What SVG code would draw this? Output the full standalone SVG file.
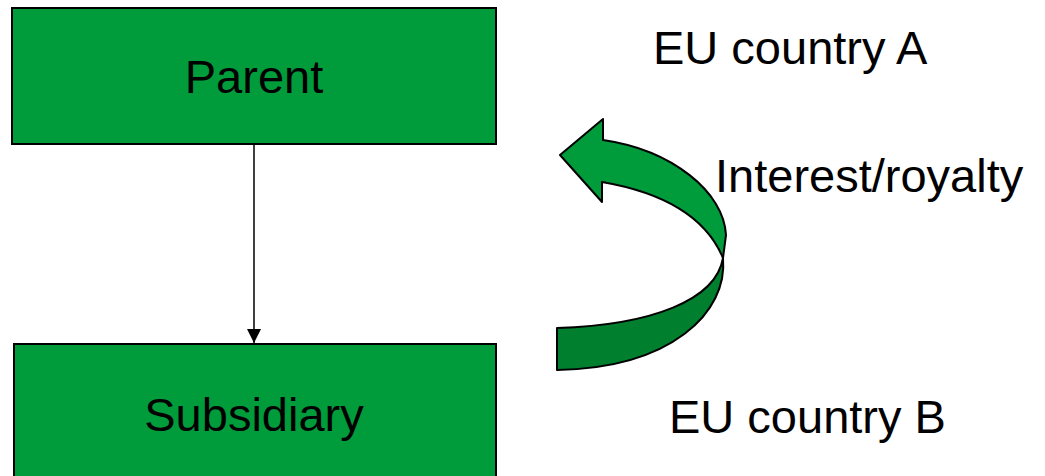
<svg xmlns="http://www.w3.org/2000/svg" width="1045" height="476" viewBox="0 0 1045 476">
  <style>
    .box { fill: #009B3A; stroke: #000000; stroke-width: 2; }
    .label { font-family: "Liberation Sans", Arial, sans-serif; font-size: 47px; fill: #000000; }
    .link { stroke: #000000; stroke-width: 1.5; fill: none; }
    .ribbon-top { fill: #009B3A; stroke: #000000; stroke-width: 2; stroke-linejoin: round; }
    .ribbon-back { fill: #007F2E; stroke: #000000; stroke-width: 2; stroke-linejoin: round; }
  </style>
  <defs>
    <marker id="arrowhead" markerWidth="16" markerHeight="16" refX="14" refY="8" orient="auto" markerUnits="userSpaceOnUse">
      <path d="M0,1 L14,8 L0,15 Z" fill="#000000"/>
    </marker>
  </defs>
  <rect width="1045" height="476" fill="#FFFFFF"/>

  <g id="connectors">
    <line class="link" x1="254" y1="144" x2="254" y2="343" marker-end="url(#arrowhead)"/>
  </g>

  <g id="node-parent">
    <rect class="box" x="12" y="8" width="484" height="136"/>
    <text class="label" x="254" y="93" text-anchor="middle">Parent</text>
  </g>

  <g id="node-subsidiary">
    <rect class="box" x="14" y="344" width="482" height="150"/>
    <text class="label" x="254" y="431" text-anchor="middle">Subsidiary</text>
  </g>

  <g id="payment-arrow">
    <!-- lower, darker half of the twisted ribbon -->
    <path class="ribbon-back" d="M723,258 C728,312 672,368 557,370 L557,328 C652,325 716,300 723,258 Z"/>
    <!-- upper half with the arrowhead -->
    <path class="ribbon-top" d="M603,140 C672,150 724,192 726,235 L723,258 C705,215 660,192 602,182 L602,202 L560,155 L603,119 Z"/>
  </g>

  <g id="labels">
    <text class="label" x="653" y="64">EU country A</text>
    <text class="label" x="715" y="192">Interest/royalty</text>
    <text class="label" x="669" y="433">EU country B</text>
  </g>
</svg>
